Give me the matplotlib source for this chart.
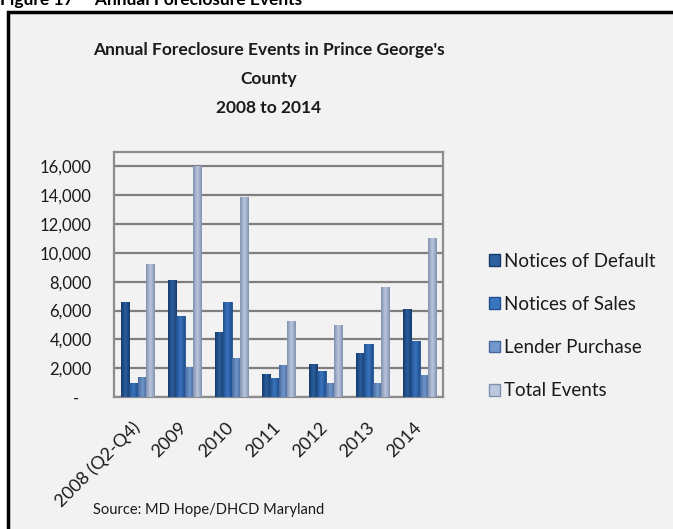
import numpy as np
import matplotlib
matplotlib.use("Agg")
import matplotlib.pyplot as plt
from matplotlib.patches import Rectangle, Patch
from matplotlib.colors import LinearSegmentedColormap
from matplotlib.transforms import ScaledTranslation

plt.rcParams['font.family'] = ['Lato', 'DejaVu Sans']

categories = ["2008 (Q2-Q4)", "2009", "2010", "2011", "2012", "2013", "2014"]
series_names = ["Notices of Default", "Notices of Sales", "Lender Purchase", "Total Events"]
notices_default = [6600, 8100, 4500, 1600, 2300, 3050, 6100]
notices_sales = [1000, 5600, 6600, 1300, 1800, 3700, 3900]
lender_purchase = [1400, 2100, 2700, 2200, 1000, 1000, 1550]
total_events = [9200, 16000, 13900, 5300, 5000, 7600, 11050]
yticks = [0, 2000, 4000, 6000, 8000, 10000, 12000, 14000, 16000]
ytick_labels = ["-   ", "2,000", "4,000", "6,000", "8,000", "10,000", "12,000", "14,000", "16,000"]

series = [notices_default, notices_sales, lender_purchase, total_events]
edge_cols = ["#163a6a", "#1f4f8f", "#46689e", "#7f8fae"]
mid_cols = ["#2d609f", "#3a75bf", "#7197cb", "#bcc8de"]

W, H = 673, 529
fig = plt.figure(figsize=(W / 100, H / 100), dpi=100)
fig.patch.set_facecolor("white")

# outer frame
frame = Rectangle((8 / W, -0.05), 1.0, 1 - 12 / H + 0.05, transform=fig.transFigure,
                  facecolor="#F2F2F2", edgecolor="black", linewidth=2.5, zorder=-5)
fig.patches.append(frame)
fig.text(0 / W, 1.0, "Figure 17     Annual Foreclosure Events", fontsize=12.5,
         fontweight="bold", ha="left", va="center", color="black")

ax = fig.add_axes([114 / W, 1 - 397 / H, 329 / W, 245 / H])
ax.set_zorder(1)
ax.set_facecolor("#F2F2F2")
x = np.arange(len(categories))
bw = 0.18
for i, vals in enumerate(series):
    cmap = LinearSegmentedColormap.from_list("c%d" % i, [edge_cols[i], mid_cols[i], edge_cols[i]])
    bars = ax.bar(x + (i - 1.5) * bw, vals, width=bw, color=mid_cols[i],
                  edgecolor=edge_cols[i], linewidth=0.6, zorder=3)
    grad = np.linspace(0, 1, 64).reshape(1, -1)
    for b in bars:
        x0, y0 = b.get_x(), b.get_y()
        im = ax.imshow(grad, extent=(x0, x0 + b.get_width(), y0, y0 + b.get_height()),
                       cmap=cmap, aspect="auto", zorder=3.5, interpolation="bicubic")
        im.set_clip_path(b)

ax.set_xlim(-0.5, len(categories) - 0.5)
ax.set_ylim(0, 17000)
ax.set_yticks(yticks)
ax.set_yticklabels(ytick_labels, fontsize=12, color="#1a1a1a")
ax.tick_params(axis="y", length=0, pad=16)
ax.set_xticks(x)
ax.set_xticklabels(categories, rotation=45, rotation_mode="anchor", ha="right", va="top",
                   fontsize=13, color="#1a1a1a")
ax.tick_params(axis="x", length=0, pad=16)
off = ScaledTranslation(-6 / 100, 0, fig.dpi_scale_trans)
for t in ax.get_xticklabels():
    t.set_transform(t.get_transform() + off)
ax.grid(axis="y", color="#7f7f7f", linewidth=1.6, zorder=1)
for s in ax.spines.values():
    s.set_color("#8c8c8c")
    s.set_linewidth(1.6)

fig.text(269 / W, 1 - 42 / H, "Annual Foreclosure Events in Prince George's\nCounty\n2008 to 2014",
         ha="center", va="top", fontsize=12.5, fontweight="bold", linespacing=2.0,
         color="#1a1a1a")

handles = [Patch(facecolor=mid_cols[i], edgecolor=edge_cols[i], label=series_names[i])
           for i in range(4)]
leg = fig.legend(handles=handles, loc="center left", bbox_to_anchor=(481 / W, 1 - 326 / H),
                 frameon=False, fontsize=13.5, handlelength=0.6, handleheight=0.6,
                 handletextpad=0.25, labelspacing=1.4, borderaxespad=0)
for t in leg.get_texts():
    t.set_color("#1a1a1a")

fig.text(93 / W, 1 - 510 / H, "Source: MD Hope/DHCD Maryland", ha="left", va="center",
         fontsize=10.5, color="#1a1a1a")

fig.savefig("out.png", dpi=100, facecolor=fig.get_facecolor())
